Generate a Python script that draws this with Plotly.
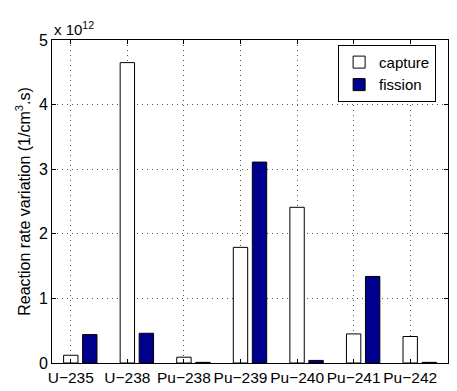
import plotly.graph_objects as go

categories = ["U−235", "U−238", "Pu−238", "Pu−239", "Pu−240", "Pu−241", "Pu−242"]
capture = [0.12, 4.65, 0.09, 1.79, 2.41, 0.45, 0.41]   # x 1e12
fission = [0.44, 0.46, 0.01, 3.11, 0.04, 1.34, 0.01]   # x 1e12

xpos = list(range(1, len(categories) + 1))
tickpos = [x - 0.168 for x in xpos]

font = "Liberation Sans, Arial, Helvetica, sans-serif"

fig = go.Figure()
fig.add_trace(go.Bar(x=xpos, y=capture, name="capture",
                     marker=dict(color="white", line=dict(color="black", width=1))))
fig.add_trace(go.Bar(x=xpos, y=fission, name="fission",
                     marker=dict(color="#00008F", line=dict(color="black", width=1))))

fig.update_layout(
    width=457, height=391,
    margin=dict(l=52, r=9, t=40, b=28),
    paper_bgcolor="white", plot_bgcolor="white",
    barmode="group", bargap=0.328, bargroupgap=0.244,
    font=dict(family=font, size=15, color="black"),
    showlegend=True,
    legend=dict(x=0.97, y=0.985, xanchor="right", yanchor="top",
                bordercolor="black", borderwidth=1, bgcolor="white",
                font=dict(size=15), tracegroupgap=0, itemwidth=30),
)
fig.update_xaxes(range=[0.5, 7.5], tickmode="array", tickvals=tickpos, ticktext=categories,
                 tickangle=0, automargin=False,
                 showline=True, linecolor="black", linewidth=1, mirror="ticks",
                 ticks="inside", ticklen=4, tickcolor="black",
                 showgrid=True, gridcolor="#555555", griddash="1px,4px", gridwidth=1,
                 zeroline=False, tickfont=dict(size=15.5))
fig.update_yaxes(range=[0, 5], tickvals=[0, 1, 2, 3, 4, 5], automargin=False,
                 showline=True, linecolor="black", linewidth=1, mirror="ticks",
                 ticks="inside", ticklen=4, tickcolor="black",
                 showgrid=True, gridcolor="#555555", griddash="1px,4px", gridwidth=1,
                 zeroline=False, tickfont=dict(size=16),
                 title=dict(text="Reaction rate variation (1/cm<sup>3</sup>.s)", standoff=4,
                            font=dict(size=16)))
fig.add_annotation(text="x 10<sup>12</sup>", xref="paper", yref="paper", x=0, y=1,
                   xanchor="left", yanchor="bottom", showarrow=False,
                   font=dict(size=15), yshift=0)

fig.write_html("out.html")
